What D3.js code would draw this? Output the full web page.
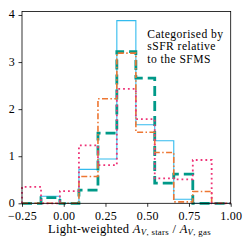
<!DOCTYPE html>
<html lang="en">
<head>
  <meta charset="UTF-8">
  <title>Document</title>
  <script src="https://cdn.jsdelivr.net/npm/d3@7"></script>
  <style>
    body { margin: 0; background: #fff; }
    svg text { font-family: "Liberation Serif", "DejaVu Serif", serif; fill: #000; }
  </style>
</head>
<body>
  <div id="app"></div>
<script>
  // bin edges and histogram heights
  const binEdges = [-0.25, -0.136, -0.023, 0.091, 0.205, 0.318, 0.432, 0.545, 0.659, 0.773, 0.886, 1.0];
  const cyanVals = [0, 0.15, 0, 0.72, 0.94, 3.88, 1.67, 1.33, 0.085, 0, 0];
  const tealVals = [0, 0.12, 0, 0.28, 1.49, 3.22, 2.66, 0.43, 0.62, 0, 0];
  const orangeVals = [0, 0, 0, 0.57, 2.22, 3.19, 1.51, 1.08, 0.03, 0.25, 0];
  const magentaVals = [0.35, 0, 0.26, 1.23, 0.81, 2.43, 1.79, 0.53, 0.51, 0.92, 0];
  const xTicks = [-0.25, 0, 0.25, 0.5, 0.75, 1.0];
  const yTicks = [0, 1, 2, 3, 4];
  const noteLines = ['Categorised by', 'sSFR relative', 'to the SFMS'];

  const w = 249;
  const h = 249;
  const padL = 22, padR = 230.7, padT = 11.5, padB = 203.3;

  const xScale = d3.scaleLinear().domain([-0.25, 1.0]).range([padL, padR]);
  const yScale = d3.scaleLinear().domain([0, 4.074]).range([padB, padT]);

  const svg = d3.select('#app')
    .append('svg')
    .attr('width', w)
    .attr('height', h);

  function stepPoints(vals) {
    const pts = [[binEdges[0], 0]];
    vals.forEach((v, i) => {
      pts.push([binEdges[i], v]);
      pts.push([binEdges[i + 1], v]);
    });
    pts.push([binEdges[binEdges.length - 1], 0]);
    return pts;
  }

  const line = d3.line()
    .x(d => xScale(d[0]))
    .y(d => yScale(d[1]));

  const series = [
    { vals: cyanVals, color: '#33BBEE', width: 1.1, dash: null },
    { vals: tealVals, color: '#009988', width: 2.8, dash: '10,5' },
    { vals: orangeVals, color: '#EE7733', width: 1.6, dash: '6,2.4,1.5,2.4' },
    { vals: magentaVals, color: '#EE3377', width: 1.8, dash: '1.8,3' }
  ];

  svg.selectAll('path.hist')
    .data(series)
    .enter()
    .append('path')
    .attr('class', 'hist')
    .attr('d', d => line(stepPoints(d.vals)))
    .attr('fill', 'none')
    .attr('stroke', d => d.color)
    .attr('stroke-width', d => d.width)
    .attr('stroke-dasharray', d => d.dash);

  // axes
  const xAxis = d3.axisBottom(xScale)
    .tickValues(xTicks)
    .tickSize(3.5)
    .tickPadding(5)
    .tickFormat(d => d3.format('.2f')(d).replace('-', '\u2212'));
  const yAxis = d3.axisLeft(yScale)
    .tickValues(yTicks)
    .tickSize(3.5)
    .tickPadding(3.5)
    .tickFormat(d3.format('d'));

  const gx = svg.append('g')
    .attr('transform', `translate(0, ${padB})`)
    .call(xAxis);
  const gy = svg.append('g')
    .attr('transform', `translate(${padL}, 0)`)
    .call(yAxis);

  [gx, gy].forEach(g => {
    g.select('.domain').remove();
    g.selectAll('line').attr('stroke', '#000').attr('stroke-width', 0.8);
    g.selectAll('text').attr('font-size', 12).style('letter-spacing', '0.2px');
  });
  gy.selectAll('text').attr('dy', '0.25em');
  gx.selectAll('text').attr('dy', '0.68em');

  svg.append('rect')
    .attr('x', padL)
    .attr('y', padT)
    .attr('width', padR - padL)
    .attr('height', padB - padT)
    .attr('fill', 'none')
    .attr('stroke', '#000')
    .attr('stroke-width', 0.8);

  // annotation
  svg.append('g')
    .selectAll('text')
    .data(noteLines)
    .enter()
    .append('text')
    .attr('x', 147.3)
    .attr('y', (d, i) => 37.7 + i * 12.4)
    .attr('font-size', 11.6)
    .style('letter-spacing', '0.45px')
    .text(d => d);

  // x label
  const lab = svg.append('text')
    .attr('x', 129.5)
    .attr('y', 232.5)
    .attr('text-anchor', 'middle')
    .attr('font-size', 12.5)
    .style('letter-spacing', '0.3px');
  lab.append('tspan').text('Light-weighted ');
  lab.append('tspan').attr('font-style', 'italic').text('A');
  lab.append('tspan').attr('font-size', 8.8).attr('dy', 2).attr('font-style', 'italic').text('V');
  lab.append('tspan').attr('font-size', 8.8).text(', stars');
  lab.append('tspan').attr('dy', -2).text(' / ');
  lab.append('tspan').attr('font-style', 'italic').text('A');
  lab.append('tspan').attr('font-size', 8.8).attr('dy', 2).attr('font-style', 'italic').text('V');
  lab.append('tspan').attr('font-size', 8.8).text(', gas');
</script>
</body>
</html>
